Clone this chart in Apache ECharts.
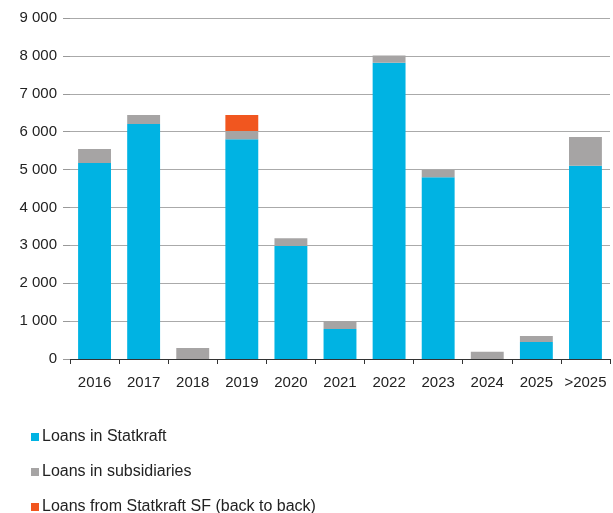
<!DOCTYPE html>
<html><head><meta charset="utf-8">
<script src="https://cdn.jsdelivr.net/npm/echarts@6/dist/echarts.min.js"></script>
<style>html,body{margin:0;padding:0;background:#fff}#c{width:613px;height:513px}</style>
</head><body><div id="c"></div>
<script>
var categories = ['2016','2017','2018','2019','2020','2021','2022','2023','2024','2025','>2025'];
var loansStatkraft = [5170, 6200, 0, 5800, 2980, 790, 7820, 4800, 0, 450, 5100];
var loansSubsidiaries = [370, 240, 290, 220, 210, 210, 190, 190, 190, 160, 760];
var loansSF = [0, 0, 0, 420, 0, 0, 0, 0, 0, 0, 0];
var yTicks = [0, 1000, 2000, 3000, 4000, 5000, 6000, 7000, 8000, 9000];

var chart = echarts.init(document.getElementById('c'));
var font = 'Liberation Sans, Arial, sans-serif';
function fmt(v){ return String(v).replace(/\B(?=(\d{3})+(?!\d))/g, ' '); }
chart.setOption({
  animation: false,
  grid: {left: 70, right: 3, top: 18, bottom: 154},
  legend: {
    orient: 'vertical', left: 31, top: 429, height: 120, itemGap: 19, padding: 0,
    itemWidth: 8, itemHeight: 8, icon: 'rect',
    textStyle: {fontFamily: font, fontSize: 16, color: '#222', padding: [0,0,0,-2]},
    data: ['Loans in Statkraft', 'Loans in subsidiaries', 'Loans from Statkraft SF (back to back)']
  },
  xAxis: {
    type: 'category', data: categories,
    axisLine: {lineStyle: {color: '#333', width: 1}},
    axisTick: {show: true, length: 5, lineStyle: {color: '#333'}},
    axisLabel: {fontFamily: font, fontSize: 15, color: '#222', margin: 16, interval: 0}
  },
  yAxis: {
    type: 'value', min: yTicks[0], max: yTicks[yTicks.length-1], interval: 1000,
    axisLine: {show: false},
    axisTick: {show: true, length: 7, lineStyle: {color: '#999'}},
    splitLine: {lineStyle: {color: '#aaa', width: 1}},
    axisLabel: {fontFamily: font, fontSize: 15, color: '#222', margin: 13, formatter: fmt}
  },
  series: [
    {name: 'Loans in Statkraft', type: 'bar', stack: 's', data: loansStatkraft, barWidth: '67%', itemStyle: {color: '#00b3e3'}},
    {name: 'Loans in subsidiaries', type: 'bar', stack: 's', data: loansSubsidiaries, itemStyle: {color: '#a6a4a4'}},
    {name: 'Loans from Statkraft SF (back to back)', type: 'bar', stack: 's', data: loansSF, itemStyle: {color: '#f1561f'}}
  ]
});
</script></body></html>
